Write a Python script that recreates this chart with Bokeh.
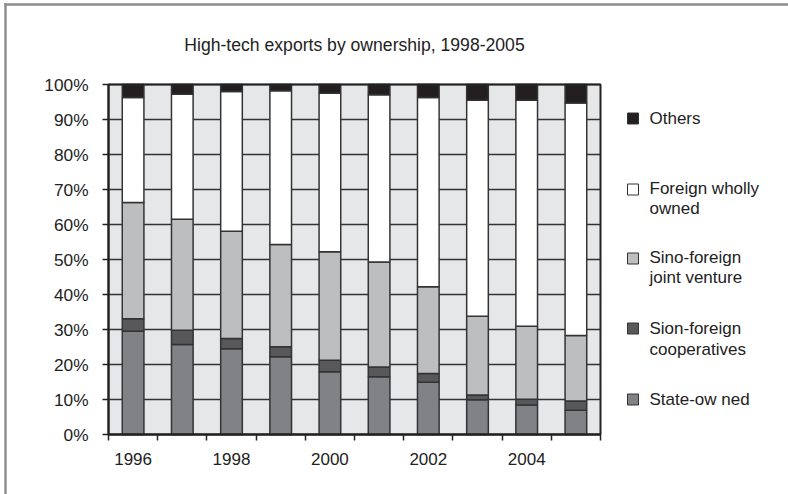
from bokeh.plotting import figure
from bokeh.models import (ColumnDataSource, FixedTicker, PrintfTickFormatter,
                          Label, BoxAnnotation, LinearAxis, Range1d)
from bokeh.embed import file_html
from bokeh.resources import INLINE

# Share of high-tech exports by ownership type (percent of total)
years = [1996, 1997, 1998, 1999, 2000, 2001, 2002, 2003, 2004, 2005]
state_owned = [29.5, 25.7, 24.5, 22.2, 17.9, 16.5, 14.9, 9.9, 8.4, 6.9]
cooperatives = [3.6, 4.1, 2.9, 2.9, 3.3, 2.8, 2.5, 1.4, 1.7, 2.7]
joint_venture = [33.2, 31.7, 30.7, 29.2, 31.0, 30.0, 24.8, 22.5, 20.8, 18.7]
wholly_owned = [30.0, 35.7, 39.9, 43.9, 45.3, 47.8, 54.1, 61.7, 64.6, 66.4]
others = [3.7, 2.8, 2.0, 1.8, 2.5, 2.9, 3.7, 4.5, 4.5, 5.3]

series = ["state", "coop", "jv", "fwo", "others"]
colors = ["#808285", "#58585a", "#bcbec0", "#ffffff", "#231f20"]
legend_lines = [
    ["State-ow ned"],
    ["Sion-foreign", "cooperatives"],
    ["Sino-foreign", "joint venture"],
    ["Foreign wholly", "owned"],
    ["Others"],
]
year_labels = [1996, 1998, 2000, 2002, 2004]
pct_ticks = list(range(0, 101, 10))

# canvas and plot-area geometry (pixels)
W, H = 788, 494
LEFT, RIGHT, TOP, BOTTOM = 108, 600, 84, 434
FONT = "Liberation Sans"
INK = "#222222"

x0, x1 = years[0] - 0.5, years[-1] + 0.5
y0, y1 = 0, 100
sx = (x1 - x0) / (RIGHT - LEFT)
sy = (y1 - y0) / (BOTTOM - TOP)


def px_x(px):
    return x0 + (px - LEFT) * sx


def px_y(py):
    return y0 + (BOTTOM - py) * sy


source = ColumnDataSource(dict(year=years, state=state_owned, coop=cooperatives,
                               jv=joint_venture, fwo=wholly_owned, others=others))

# the frame fills the canvas; the plot area is placed through the ranges
p = figure(width=W, height=H, x_range=Range1d(px_x(0), px_x(W)),
           y_range=Range1d(px_y(H), px_y(0)),
           x_axis_location=None, y_axis_location=None,
           output_backend="svg", toolbar_location=None, min_border=0)
p.outline_line_color = None
p.background_fill_color = "white"
p.border_fill_color = "white"
p.grid.visible = False

# outer frame: top and left edges, drawn as thin filled strips
p.quad(left=[px_x(3.8), px_x(3.8)], right=[px_x(W), px_x(6.2)],
       top=[px_y(2.8), px_y(2.8)], bottom=[px_y(5.2), px_y(H)],
       fill_color="#8c8c8c", line_color=None)

# plot area background
p.add_layout(BoxAnnotation(left=x0, right=x1, bottom=y0, top=y1, level="image",
                           fill_color="#e6e7e8", fill_alpha=1, line_color=None))

# horizontal gridlines
p.segment(x0=[x0] * len(pct_ticks), x1=[x1] * len(pct_ticks), y0=pct_ticks, y1=pct_ticks,
          line_color="#333333", line_width=1.5)

p.vbar_stack(series, x="year", width=0.44, source=source, fill_color=colors,
             line_color="#333333", line_width=1.5)

# plot area border
p.add_layout(BoxAnnotation(left=x0, right=x1, bottom=y0, top=y1,
                           fill_alpha=0, line_color=INK, line_width=2, line_alpha=1))

# axes
ya = LinearAxis(fixed_location=x0, bounds=(y0, y1))
ya.ticker = FixedTicker(ticks=pct_ticks)
ya.formatter = PrintfTickFormatter(format="%d%%")
ya.axis_line_color = INK
ya.axis_line_width = 2
ya.major_tick_line_color = INK
ya.major_tick_line_width = 1.5
ya.major_tick_out = 6
ya.major_tick_in = 0
ya.minor_tick_line_color = None
ya.major_label_standoff = 14
ya.major_label_text_font = FONT
ya.major_label_text_font_size = "17.3px"
ya.major_label_text_color = INK
p.add_layout(ya, "left")

xa = LinearAxis(fixed_location=y0, bounds=(x0, x1))
xa.ticker = FixedTicker(ticks=year_labels,
                        minor_ticks=[y - 0.5 for y in years] + [years[-1] + 0.5])
xa.axis_line_color = INK
xa.axis_line_width = 2
xa.major_tick_line_color = None
xa.minor_tick_line_color = INK
xa.minor_tick_line_width = 1.5
xa.minor_tick_out = 6
xa.minor_tick_in = 0
xa.major_label_standoff = 12
xa.major_label_text_font = FONT
xa.major_label_text_font_size = "17px"
xa.major_label_text_color = INK
p.add_layout(xa, "below")

# title
p.add_layout(Label(x=(x0 + x1) / 2, y=px_y(44), text="High-tech exports by ownership, 1998-2005",
                   text_align="center", text_baseline="middle", text_font=FONT,
                   text_font_size="17.6px", text_color=INK))

# legend
sq_centers = [399, 328, 258, 189, 118]
line_ys = [[399], [328, 349], [257, 277], [188, 208], [118]]
p.scatter(x=[px_x(632.5)] * len(colors), y=[px_y(c) for c in sq_centers], marker="square",
          size=11, fill_color=colors, line_color="#333333", line_width=1)
for lines, ys in zip(legend_lines, line_ys):
    for txt, ty in zip(lines, ys):
        p.add_layout(Label(x=px_x(649), y=px_y(ty), text=txt, text_align="left",
                           text_baseline="middle", text_font=FONT,
                           text_font_size="17px", text_color=INK))

open("out.html", "w").write(file_html(p, INLINE))
